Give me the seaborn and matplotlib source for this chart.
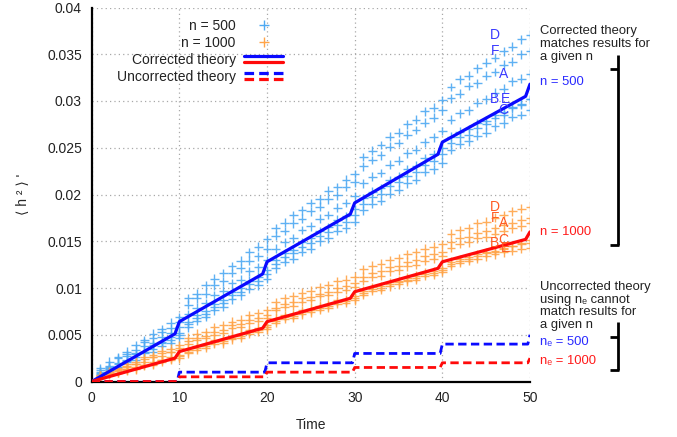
import matplotlib
matplotlib.use("Agg")
import matplotlib.pyplot as plt
from matplotlib.lines import Line2D
from matplotlib.legend_handler import HandlerBase
import pandas as pd
import seaborn as sns

# ---------------------------------------------------------------- data
time = list(range(1, 51))

# simulated <h^2>' for six replicate runs, n = 500
n500_D = [0.0014, 0.0021, 0.0026, 0.0032, 0.0039, 0.0044, 0.0051, 0.0056, 0.0063, 0.0069,
          0.0089, 0.0094, 0.0103, 0.0110, 0.0116, 0.0123, 0.0129, 0.0138, 0.0144, 0.0152,
          0.0164, 0.0170, 0.0178, 0.0183, 0.0191, 0.0195, 0.0204, 0.0208, 0.0216, 0.0222,
          0.0240, 0.0247, 0.0253, 0.0262, 0.0266, 0.0275, 0.0280, 0.0289, 0.0293, 0.0301,
          0.0315, 0.0323, 0.0327, 0.0335, 0.0341, 0.0346, 0.0353, 0.0358, 0.0366, 0.0371]
n500_F = [0.0012, 0.0017, 0.0025, 0.0029, 0.0034, 0.0042, 0.0046, 0.0053, 0.0057, 0.0064,
          0.0082, 0.0089, 0.0094, 0.0103, 0.0107, 0.0116, 0.0121, 0.0129, 0.0134, 0.0142,
          0.0156, 0.0161, 0.0169, 0.0174, 0.0182, 0.0187, 0.0195, 0.0199, 0.0208, 0.0213,
          0.0230, 0.0237, 0.0242, 0.0251, 0.0255, 0.0264, 0.0269, 0.0277, 0.0282, 0.0290,
          0.0303, 0.0308, 0.0316, 0.0319, 0.0327, 0.0331, 0.0339, 0.0342, 0.0350, 0.0353]
n500_A = [0.0010, 0.0016, 0.0020, 0.0027, 0.0030, 0.0038, 0.0041, 0.0048, 0.0052, 0.0058,
          0.0072, 0.0079, 0.0084, 0.0092, 0.0097, 0.0105, 0.0109, 0.0118, 0.0122, 0.0130,
          0.0142, 0.0149, 0.0153, 0.0162, 0.0166, 0.0174, 0.0178, 0.0186, 0.0191, 0.0198,
          0.0212, 0.0219, 0.0223, 0.0232, 0.0236, 0.0244, 0.0248, 0.0256, 0.0261, 0.0268,
          0.0280, 0.0287, 0.0290, 0.0298, 0.0302, 0.0309, 0.0313, 0.0321, 0.0324, 0.0329]
n500_B = [0.0009, 0.0013, 0.0019, 0.0022, 0.0029, 0.0032, 0.0039, 0.0041, 0.0048, 0.0052,
          0.0064, 0.0071, 0.0075, 0.0083, 0.0087, 0.0096, 0.0100, 0.0108, 0.0112, 0.0119,
          0.0130, 0.0137, 0.0141, 0.0149, 0.0153, 0.0161, 0.0165, 0.0173, 0.0177, 0.0184,
          0.0196, 0.0203, 0.0207, 0.0215, 0.0219, 0.0227, 0.0231, 0.0239, 0.0243, 0.0250,
          0.0262, 0.0267, 0.0270, 0.0276, 0.0279, 0.0285, 0.0288, 0.0294, 0.0297, 0.0302]
n500_E = [0.0008, 0.0014, 0.0016, 0.0023, 0.0026, 0.0032, 0.0035, 0.0042, 0.0044, 0.0050,
          0.0061, 0.0068, 0.0072, 0.0080, 0.0084, 0.0092, 0.0096, 0.0104, 0.0108, 0.0115,
          0.0126, 0.0133, 0.0137, 0.0144, 0.0148, 0.0156, 0.0160, 0.0167, 0.0171, 0.0178,
          0.0190, 0.0197, 0.0201, 0.0209, 0.0213, 0.0220, 0.0224, 0.0232, 0.0236, 0.0243,
          0.0255, 0.0261, 0.0264, 0.0271, 0.0275, 0.0282, 0.0285, 0.0292, 0.0296, 0.0302]
n500_C = [0.0007, 0.0012, 0.0015, 0.0021, 0.0023, 0.0030, 0.0032, 0.0038, 0.0041, 0.0046,
          0.0058, 0.0065, 0.0069, 0.0076, 0.0080, 0.0088, 0.0092, 0.0099, 0.0103, 0.0110,
          0.0121, 0.0128, 0.0131, 0.0139, 0.0142, 0.0150, 0.0153, 0.0161, 0.0164, 0.0171,
          0.0183, 0.0190, 0.0193, 0.0201, 0.0205, 0.0212, 0.0216, 0.0224, 0.0227, 0.0234,
          0.0248, 0.0254, 0.0257, 0.0263, 0.0266, 0.0273, 0.0276, 0.0283, 0.0285, 0.0290]

# simulated <h^2>' for six replicate runs, n = 1000
n1000_D = [0.0007, 0.0011, 0.0014, 0.0019, 0.0021, 0.0026, 0.0028, 0.0033, 0.0035, 0.0039,
           0.0047, 0.0051, 0.0053, 0.0058, 0.0060, 0.0064, 0.0066, 0.0071, 0.0073, 0.0076,
           0.0085, 0.0089, 0.0091, 0.0095, 0.0097, 0.0101, 0.0103, 0.0107, 0.0109, 0.0112,
           0.0120, 0.0124, 0.0126, 0.0130, 0.0132, 0.0136, 0.0138, 0.0142, 0.0144, 0.0147,
           0.0158, 0.0162, 0.0164, 0.0169, 0.0171, 0.0175, 0.0178, 0.0182, 0.0185, 0.0187]
n1000_F = [0.0006, 0.0010, 0.0012, 0.0017, 0.0019, 0.0024, 0.0026, 0.0030, 0.0032, 0.0036,
           0.0043, 0.0047, 0.0049, 0.0053, 0.0055, 0.0060, 0.0061, 0.0066, 0.0068, 0.0071,
           0.0079, 0.0083, 0.0085, 0.0089, 0.0090, 0.0094, 0.0096, 0.0100, 0.0102, 0.0105,
           0.0112, 0.0116, 0.0118, 0.0122, 0.0124, 0.0128, 0.0130, 0.0134, 0.0136, 0.0139,
           0.0149, 0.0153, 0.0155, 0.0159, 0.0161, 0.0164, 0.0167, 0.0170, 0.0173, 0.0175]
n1000_A = [0.0006, 0.0009, 0.0013, 0.0015, 0.0019, 0.0021, 0.0026, 0.0027, 0.0032, 0.0034,
           0.0040, 0.0044, 0.0046, 0.0050, 0.0052, 0.0057, 0.0058, 0.0063, 0.0065, 0.0068,
           0.0076, 0.0080, 0.0081, 0.0085, 0.0087, 0.0091, 0.0092, 0.0096, 0.0098, 0.0101,
           0.0108, 0.0112, 0.0113, 0.0118, 0.0119, 0.0123, 0.0125, 0.0129, 0.0131, 0.0134,
           0.0143, 0.0147, 0.0149, 0.0153, 0.0155, 0.0158, 0.0161, 0.0164, 0.0166, 0.0169]
n1000_B = [0.0005, 0.0008, 0.0011, 0.0013, 0.0016, 0.0018, 0.0021, 0.0023, 0.0026, 0.0028,
           0.0034, 0.0038, 0.0040, 0.0044, 0.0045, 0.0049, 0.0051, 0.0055, 0.0057, 0.0060,
           0.0067, 0.0071, 0.0072, 0.0076, 0.0078, 0.0081, 0.0083, 0.0087, 0.0088, 0.0091,
           0.0097, 0.0101, 0.0102, 0.0106, 0.0108, 0.0111, 0.0113, 0.0117, 0.0118, 0.0121,
           0.0128, 0.0131, 0.0133, 0.0136, 0.0138, 0.0140, 0.0143, 0.0145, 0.0147, 0.0148]
n1000_C = [0.0004, 0.0008, 0.0009, 0.0013, 0.0014, 0.0018, 0.0019, 0.0023, 0.0024, 0.0027,
           0.0032, 0.0036, 0.0038, 0.0042, 0.0043, 0.0047, 0.0049, 0.0053, 0.0055, 0.0058,
           0.0065, 0.0069, 0.0070, 0.0074, 0.0076, 0.0079, 0.0081, 0.0085, 0.0086, 0.0089,
           0.0095, 0.0099, 0.0100, 0.0104, 0.0106, 0.0109, 0.0111, 0.0115, 0.0116, 0.0119,
           0.0126, 0.0129, 0.0131, 0.0134, 0.0137, 0.0139, 0.0142, 0.0145, 0.0148, 0.0151]
n1000_E = [0.0004, 0.0007, 0.0009, 0.0012, 0.0013, 0.0017, 0.0018, 0.0021, 0.0023, 0.0025,
           0.0030, 0.0034, 0.0036, 0.0040, 0.0041, 0.0045, 0.0047, 0.0051, 0.0053, 0.0056,
           0.0063, 0.0067, 0.0068, 0.0072, 0.0074, 0.0077, 0.0079, 0.0083, 0.0084, 0.0087,
           0.0093, 0.0097, 0.0098, 0.0102, 0.0104, 0.0107, 0.0109, 0.0113, 0.0114, 0.0117,
           0.0124, 0.0127, 0.0129, 0.0131, 0.0134, 0.0136, 0.0138, 0.0140, 0.0142, 0.0143]

# theory curves (vertices of the piecewise-linear predictions)
theory_time = [0, 9.5, 10, 19.5, 20, 29.5, 30, 39.5, 40, 49.5, 50]
corrected_500 = [0, 0.0051, 0.0064, 0.0115, 0.0128, 0.0179, 0.0191, 0.0243, 0.0256, 0.0305, 0.0318]
corrected_1000 = [0, 0.0025, 0.0032, 0.0057, 0.0064, 0.0089, 0.0096, 0.0121, 0.0128, 0.0152, 0.0160]
step_time = [0, 9.75, 10, 19.75, 20, 29.75, 30, 39.75, 40, 49.75, 50]
uncorrected_500 = [0, 0, 0.001, 0.001, 0.002, 0.002, 0.003, 0.003, 0.004, 0.004, 0.005]
uncorrected_1000 = [0, 0, 0.0005, 0.0005, 0.001, 0.001, 0.0015, 0.0015, 0.002, 0.002, 0.0025]

x_ticks = [0, 10, 20, 30, 40, 50]
x_tick_labels = ["0", "10", "20", "30", "40", "50"]
y_ticks = [0, 0.005, 0.01, 0.015, 0.02, 0.025, 0.03, 0.035, 0.04]
y_tick_labels = ["0", "0.005", "0.01", "0.015", "0.02", "0.025", "0.03", "0.035", "0.04"]

runs_500 = {"D": n500_D, "F": n500_F, "A": n500_A, "B": n500_B, "E": n500_E, "C": n500_C}
runs_1000 = {"D": n1000_D, "F": n1000_F, "A": n1000_A, "B": n1000_B, "C": n1000_C, "E": n1000_E}

# ---------------------------------------------------------------- style
sns.set_style("white")
plt.rcParams["font.family"] = ["Liberation Sans", "DejaVu Sans"]
plt.rcParams["text.color"] = "#222222"

W, H = 677, 437
fig = plt.figure(figsize=(W / 100, H / 100), dpi=100)
ax_l, ax_r, ax_t, ax_b = 91.7, 530.0, 7.5, 381.5
ax = fig.add_axes([ax_l / W, 1 - ax_b / H, (ax_r - ax_l) / W, (ax_b - ax_t) / H])


def fx(px):
    return px / W


def fy(py):
    return 1 - py / H


blue_cross, orange_cross = "#4ea9f2", "#ffa448"
blue_line, red_line = "#0a0aff", "#ff0a0a"

rows = []
for n_label, runs in (("500", runs_500), ("1000", runs_1000)):
    for run, vals in runs.items():
        for t, v in zip(time, vals):
            rows.append({"time": t, "h2": v, "n": n_label, "run": run})
df = pd.DataFrame(rows)

sns.scatterplot(data=df, x="time", y="h2", hue="n",
                palette={"500": blue_cross, "1000": orange_cross},
                marker="+", s=40, linewidth=1.0, alpha=0.9,
                legend=False, ax=ax, zorder=2)

sns.lineplot(x=theory_time, y=corrected_500, color=blue_line, lw=2.3,
             estimator=None, sort=False, ax=ax, zorder=4)
sns.lineplot(x=theory_time, y=corrected_1000, color=red_line, lw=2.3,
             estimator=None, sort=False, ax=ax, zorder=4)
dash = (0, (3.0, 1.6))
sns.lineplot(x=step_time, y=uncorrected_500, color=blue_line, lw=2.0, ls=dash,
             estimator=None, sort=False, ax=ax, zorder=4)
sns.lineplot(x=step_time, y=uncorrected_1000, color=red_line, lw=2.0, ls=dash,
             estimator=None, sort=False, ax=ax, zorder=4)

# run letters at the end of each series
label_t = {"D": 46.0, "F": 46.0, "A": 47.0, "B": 46.0, "E": 47.2, "C": 47.0}
for run, vals in runs_500.items():
    ax.text(label_t[run], vals[-1], run, color="#3a3aff", fontsize=10,
            ha="center", va="center", zorder=5)
for run, vals in runs_1000.items():
    ax.text(label_t[run], vals[-1], run, color="#ff5a22", fontsize=10,
            ha="center", va="center", zorder=5)

# ---------------------------------------------------------------- axes
ax.set_xlim(0, 50)
ax.set_ylim(0, 0.04)
ax.set_xticks(x_ticks)
ax.set_xticklabels(x_tick_labels)
ax.set_yticks(y_ticks)
ax.set_yticklabels(y_tick_labels)
ax.tick_params(direction="in", length=6, width=1.3, labelsize=10,
               color="black", labelcolor="#222222", pad=7)
for side in ("top", "right"):
    ax.spines[side].set_visible(False)
for side in ("left", "bottom"):
    ax.spines[side].set_linewidth(1.6)
    ax.spines[side].set_color("black")
ax.grid(True, color="#a8a8a8", lw=0.9, ls=(0, (1, 2.5)))
ax.set_axisbelow(True)
ax.set_xlabel("Time", fontsize=10, labelpad=9)
ax.set_ylabel("\u27e8 h \u00b2 \u27e9 '", fontsize=10, labelpad=12)


# ---------------------------------------------------------------- legend
class StackedPair(HandlerBase):
    def create_artists(self, legend, orig_handle, xdescent, ydescent,
                       width, height, fontsize, trans):
        artists = []
        for line, frac in zip(orig_handle, (0.8, 0.15)):
            y = -ydescent + height * frac
            seg = Line2D([-xdescent, -xdescent + width], [y, y])
            seg.update_from(line)
            seg.set_transform(trans)
            artists.append(seg)
        return artists


h500 = Line2D([], [], ls="", marker="+", color=blue_cross, ms=7, mew=1.0)
h1000 = Line2D([], [], ls="", marker="+", color=orange_cross, ms=7, mew=1.0)
corr = (Line2D([], [], color=blue_line, lw=2.3), Line2D([], [], color=red_line, lw=2.3))
uncorr = (Line2D([], [], color=blue_line, lw=2.3, ls=dash),
          Line2D([], [], color=red_line, lw=2.3, ls=dash))
ax.legend([h500, h1000, corr, uncorr],
          ["n = 500", "n = 1000", "Corrected theory", "Uncorrected theory"],
          handler_map={tuple: StackedPair()},
          loc="upper right", bbox_to_anchor=(fx(283), fy(18.5)),
          bbox_transform=fig.transFigure, frameon=False, markerfirst=False,
          fontsize=10, handlelength=2.8, handletextpad=0.6,
          labelspacing=0.22, borderpad=0, borderaxespad=0)

# ---------------------------------------------------------------- side notes
note_size = 9.4
for i, line in enumerate(["Corrected theory", "matches results for", "a given n"]):
    fig.text(fx(540), fy(30.7 + 13 * i), line, fontsize=note_size, va="center", ha="left")
fig.text(fx(540), fy(82), "n = 500", fontsize=note_size, color="#2a2aff", va="center")
fig.text(fx(540), fy(232), "n = 1000", fontsize=note_size, color="#ff1a1a", va="center")
for i, line in enumerate(["Uncorrected theory", "using n\u2091 cannot",
                          "match results for", "a given n"]):
    fig.text(fx(540), fy(286.7 + 12.8 * i), line, fontsize=note_size, va="center", ha="left")
fig.text(fx(540), fy(342), "n\u2091 = 500", fontsize=note_size, color="#2a2aff", va="center")
fig.text(fx(540), fy(361), "n\u2091 = 1000", fontsize=note_size, color="#ff1a1a", va="center")

# brackets grouping the notes
bracket_kw = dict(color="black", lw=2.0, solid_capstyle="butt")
for top, tick, bottom in ((55, 69, 245), (322, 337, 370)):
    fig.add_artist(Line2D([fx(618), fx(618)], [fy(top), fy(bottom)], **bracket_kw))
    fig.add_artist(Line2D([fx(610), fx(618)], [fy(tick), fy(tick)], **bracket_kw))
    fig.add_artist(Line2D([fx(610), fx(619)], [fy(bottom), fy(bottom)], **bracket_kw))

fig.savefig("out.png", dpi=100)
